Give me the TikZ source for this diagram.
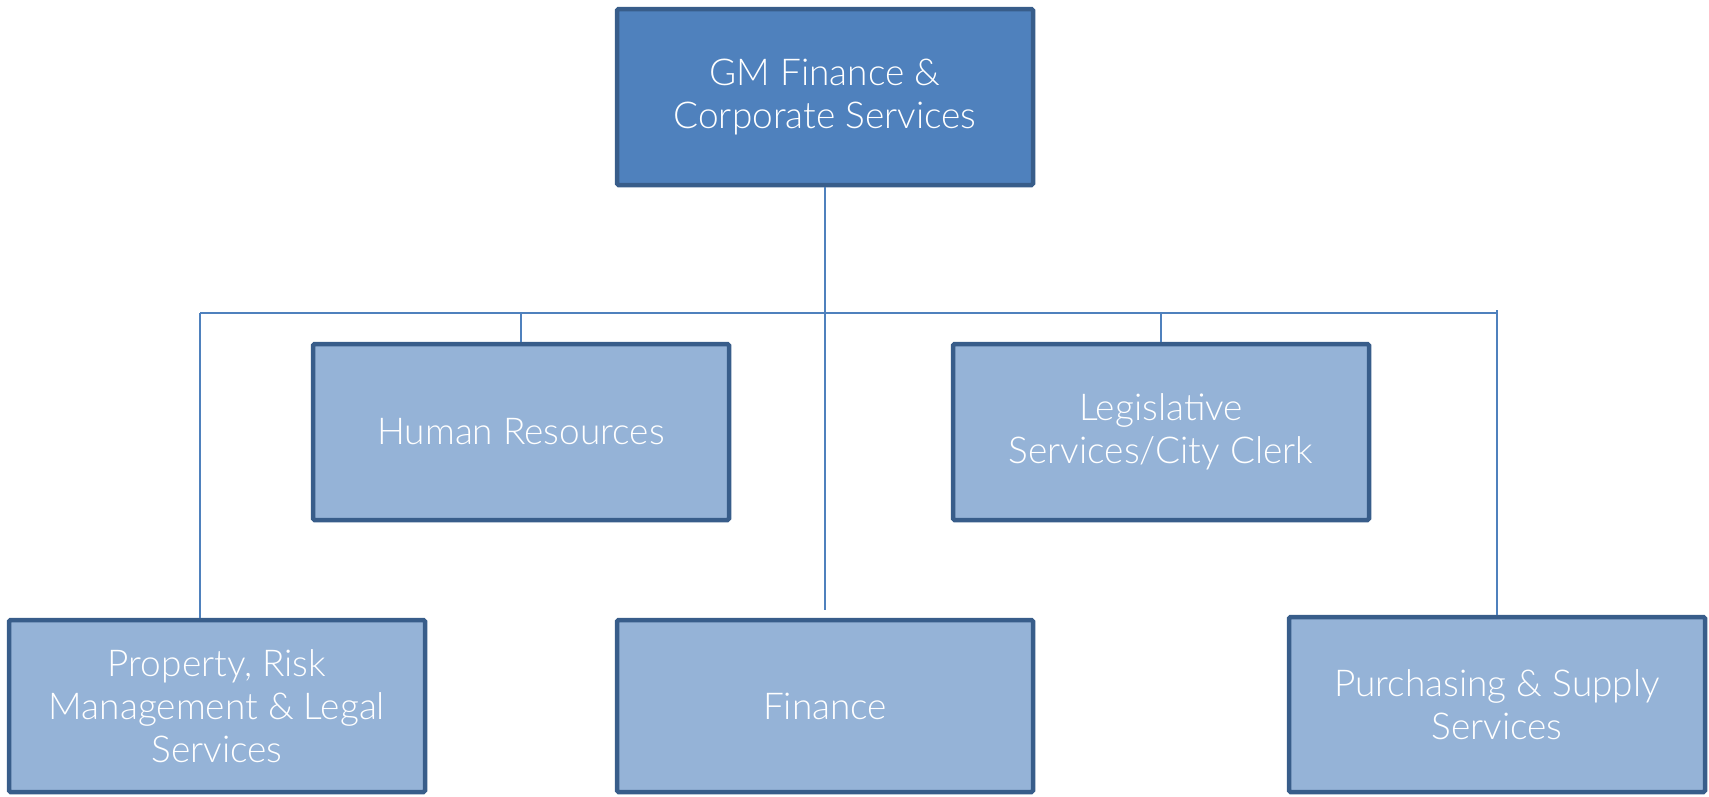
\documentclass[tikz,border=0pt]{standalone}
\usepackage{fontspec}
\setmainfont{Lato}[UprightFont=* Light]
\definecolor{lineblue}{HTML}{4F81BD}
\definecolor{topfill}{HTML}{4F81BD}
\definecolor{subfill}{HTML}{95B3D7}
\definecolor{boxedge}{HTML}{385D8A}
\begin{document}
\begin{tikzpicture}[x=1pt,y=-1pt,
  unit/.style={draw=boxedge, line width=4.5pt, fill=subfill, rounded corners=1.5pt,
    minimum width=416pt, text=white, align=center, inner sep=0pt,
    font=\fontsize{37}{43}\selectfont},
  headbox/.style={unit, fill=topfill},
  link/.style={draw=lineblue, line width=1.6pt}]
\useasboundingbox (0,0) rectangle (1709,796);
\node[headbox, minimum height=176pt] (top) at (825,97) {GM Finance \&\\Corporate Services};
\node[unit, minimum height=176pt] (hr) at (521,432) {Human Resources};
\node[unit, minimum height=176pt] (leg) at (1161,432) {Legislative\\Services/City Clerk};
\node[unit, minimum height=172pt] (prop) at (217,706) {Property, Risk\\Management \& Legal\\Services};
\node[unit, minimum height=172pt] (fin) at (825,706) {Finance};
\node[unit, minimum height=175pt] (pur) at (1497,704.5) {Purchasing \& Supply\\Services};
\coordinate (busL) at (200,313);
\coordinate (busR) at (1497,313);
\coordinate (finEnd) at (825,610);
\coordinate (purTop) at (1497,310);
\draw[link] (busL) -- (busR);
\draw[link] (top.south) -- (finEnd);
\draw[link] (busL) -- (busL |- prop.north);
\draw[link] (hr.north |- busL) -- (hr.north);
\draw[link] (leg.north |- busL) -- (leg.north);
\draw[link] (purTop) -- (pur.north);
\end{tikzpicture}
\end{document}
